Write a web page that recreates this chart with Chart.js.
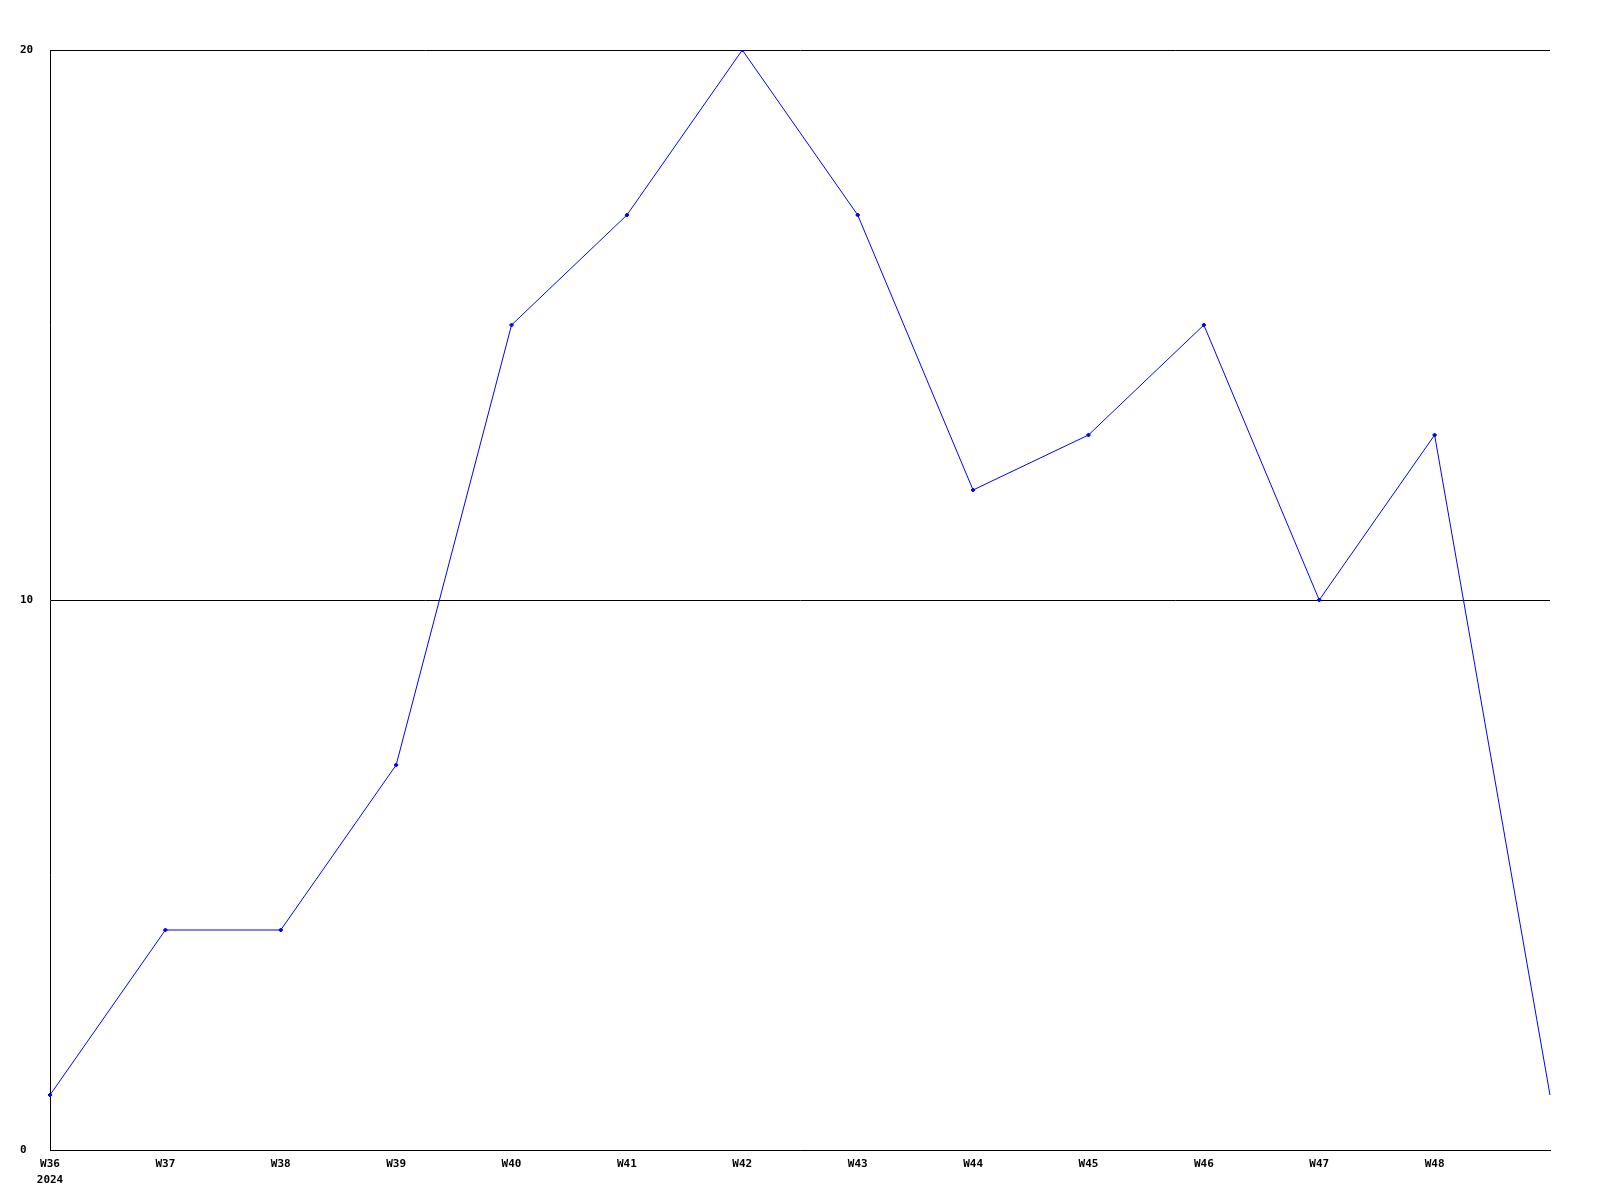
<!DOCTYPE html>
<html>
<head>
<meta charset="utf-8">
<script src="https://cdn.jsdelivr.net/npm/chart.js@4"></script>
<style>
  html, body { margin: 0; padding: 0; background: #fff; }
  canvas { display: block; }
</style>
</head>
<body>
<canvas id="grafico" width="1600" height="1200"></canvas>
<script>
// weeks of 2024, last point has no label
const semanas = ['W36', 'W37', 'W38', 'W39', 'W40', 'W41', 'W42', 'W43', 'W44', 'W45', 'W46', 'W47', 'W48', ''];
const anio = '2024';
const valores = [1, 4, 4, 7, 15, 17, 20, 17, 12, 13, 15, 10, 13, 1];
const ticksY = [0, 10, 20];

const fuente = { family: 'DejaVu Sans Mono', size: 11, weight: 'bold' };

const ctx = document.getElementById('grafico').getContext('2d');
new Chart(ctx, {
  type: 'line',
  data: {
    labels: semanas,
    datasets: [{
      data: valores,
      borderColor: '#0000ff',
      backgroundColor: '#0000ff',
      borderWidth: 1,
      pointStyle: 'rectRot',
      pointRadius: c => c.dataIndex === valores.length - 1 ? 0 : 2,
      pointBorderWidth: 1,
      tension: 0,
      fill: false
    }]
  },
  options: {
    responsive: false,
    animation: false,
    layout: { padding: { top: 50, right: 50, left: 20, bottom: 0 } },
    plugins: { legend: { display: false }, tooltip: { enabled: false } },
    scales: {
      x: {
        offset: false,
        grid: { display: false, drawTicks: false },
        border: { display: true, color: '#000', width: 1 },
        afterFit: s => { s.height = 50; },
        ticks: {
          color: '#000',
          font: { ...fuente, lineHeight: 1.45 },
          padding: 6,
          autoSkip: false,
          maxRotation: 0,
          callback: (v, i) => i === 0 ? [semanas[i], anio] : semanas[i]
        }
      },
      y: {
        min: 0,
        max: 20,
        afterBuildTicks: s => { s.ticks = ticksY.map(v => ({ value: v })); },
        afterFit: s => { s.width = 30; },
        grid: { color: '#000', lineWidth: 1, drawTicks: false },
        border: { display: true, color: '#000', width: 1 },
        ticks: {
          color: '#000',
          font: fuente,
          crossAlign: 'far',
          padding: 0
        }
      }
    }
  }
});
</script>
</body>
</html>
